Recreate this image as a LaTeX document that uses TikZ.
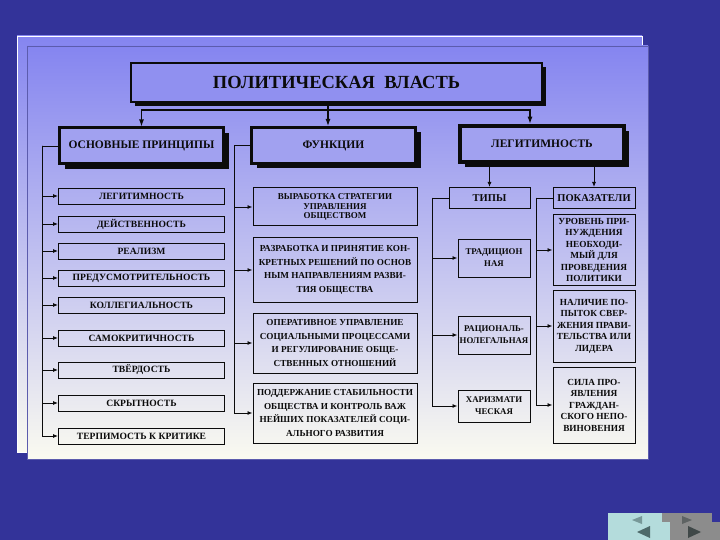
\documentclass[tikz,border=0pt]{standalone}
\usepackage{fontspec}
\setmainfont{Liberation Serif}
\usepackage{tikz}
\usetikzlibrary{arrows.meta,positioning,calc,shadows}
\definecolor{slide}{HTML}{333399}
\definecolor{paneltop}{HTML}{8585F0}
\definecolor{panelbot}{HTML}{FAFAF0}
\definecolor{ink}{HTML}{0B0B0B}
\definecolor{navcyan}{HTML}{B4DCDC}
\definecolor{navgrey}{HTML}{8C8C8C}
\definecolor{navtri}{HTML}{4E6A6A}
\definecolor{navtri2}{HTML}{404848}

\begin{document}
\begin{tikzpicture}[x=1pt,y=-1pt,
  every node/.style={font=\bfseries\fontsize{9.6}{11}\selectfont, text=ink, align=center, inner sep=1pt},
  titlebox/.style={draw=ink, line width=2.5pt, fill=panelbot!9!paneltop, minimum width=411, minimum height=39,
    font=\bfseries\fontsize{18.5}{21}\selectfont, general shadow={fill=ink, shadow xshift=4pt, shadow yshift=-4pt}},
  headbox/.style={draw=ink, line width=3pt, fill=panelbot!24!paneltop, minimum width=164, minimum height=36,
    font=\bfseries\fontsize{11.5}{13}\selectfont, general shadow={fill=ink, shadow xshift=5pt, shadow yshift=-5pt}},
  subhead/.style={draw=ink, line width=1pt, minimum height=21, font=\bfseries\fontsize{10.5}{12}\selectfont},
  princ/.style={draw=ink, line width=0.9pt, minimum width=166, minimum height=16},
  item/.style={draw=ink, line width=1pt},
  link/.style={draw=ink, line width=0.9pt},
  arr/.style={link, -{Latex[length=5pt,width=4pt]}},
  bigarr/.style={draw=ink, line width=1.2pt, -{Latex[length=7pt,width=5pt]}}]
  \useasboundingbox (0,0) rectangle (720,540);
  \fill[slide] (0,0) rectangle (720,540);
  % slide panels
  \shade[top color=paneltop, bottom color=panelbot, draw=white, line width=0.8pt] (17,36) rectangle (642,452);
  \shade[top color=paneltop, bottom color=panelbot, draw=slide!80!white, line width=0.6pt] (27,46) rectangle (648,459);

  % top level
  \node[titlebox] (vlast) at (336.5,82.5) {ПОЛИТИЧЕСКАЯ\ \ ВЛАСТЬ};
  \node[headbox] (osn) at (141.5,146) {ОСНОВНЫЕ ПРИНЦИПЫ};
  \node[headbox] (func) at (333.5,145.5) {ФУНКЦИИ};
  \node[headbox, line width=4.5pt] (leg) at (542,144) {ЛЕГИТИМНОСТЬ};
  \coordinate (hub) at (328,110);
  \draw[bigarr] (vlast.south -| hub) -- (func.north -| hub);
  \draw[bigarr] (hub) -| (osn.north);
  \draw[bigarr] (hub) -| ([xshift=-12pt]leg.north);

  % principles
  \foreach \i/\y/\t in {1/196/ЛЕГИТИМНОСТЬ, 2/224/ДЕЙСТВЕННОСТЬ, 3/251/РЕАЛИЗМ, 4/278/ПРЕДУСМОТРИТЕЛЬНОСТЬ,
      5/305/КОЛЛЕГИАЛЬНОСТЬ, 6/338/САМОКРИТИЧНОСТЬ, 7/370/ТВЁРДОСТЬ, 8/403/СКРЫТНОСТЬ, 9/436/ТЕРПИМОСТЬ К КРИТИКЕ}
    \node[princ] (p\i) at (141.5,\y) {\t};
  \coordinate (lbus) at ($(osn.west)+(-16,0)$);
  \draw[link] (osn.west) -- (lbus);
  \foreach \i in {1,...,9} \draw[arr] (lbus) |- (p\i.west);

  % functions
  \node[item, minimum width=164, minimum height=38, font=\bfseries\fontsize{9}{9.5}\selectfont] (m1) at (335,207)
    {ВЫРАБОТКА СТРАТЕГИИ\\УПРАВЛЕНИЯ\\ОБЩЕСТВОМ};
  \foreach \i/\y/\h/\t in {2/270/65/{РАЗРАБОТКА И ПРИНЯТИЕ КОН-\\КРЕТНЫХ РЕШЕНИЙ ПО ОСНОВ\\НЫМ НАПРАВЛЕНИЯМ РАЗВИ-\\ТИЯ ОБЩЕСТВА},
      3/343/60/{ОПЕРАТИВНОЕ УПРАВЛЕНИЕ\\СОЦИАЛЬНЫМИ ПРОЦЕССАМИ\\И РЕГУЛИРОВАНИЕ ОБЩЕ-\\СТВЕННЫХ ОТНОШЕНИЙ},
      4/413/60/{ПОДДЕРЖАНИЕ СТАБИЛЬНОСТИ\\ОБЩЕСТВА И КОНТРОЛЬ ВАЖ\\НЕЙШИХ ПОКАЗАТЕЛЕЙ СОЦИ-\\АЛЬНОГО РАЗВИТИЯ}}
    \node[item, minimum width=164, minimum height=\h, font=\bfseries\fontsize{9.2}{13.5}\selectfont] (m\i) at (335,\y) {\t};
  \coordinate (mbus) at ($(func.west)+(-16,0)$);
  \draw[link] (func.west) -- (mbus);
  \foreach \i in {1,...,4} \draw[arr] (mbus) |- (m\i.west);

  % legitimacy: types and indicators
  \node[subhead, minimum width=81] (tipy) at (489.5,198) {ТИПЫ};
  \node[subhead, minimum width=82] (pokaz) at (594,198) {ПОКАЗАТЕЛИ};
  \draw[arr] (tipy.north |- leg.south) -- (tipy.north);
  \draw[arr] (pokaz.north |- leg.south) -- (pokaz.north);
  \foreach \i/\y/\h/\t in {1/258/38/{ТРАДИЦИОН\\НАЯ}, 2/335/38/{РАЦИОНАЛЬ-\\НОЛЕГАЛЬНАЯ}, 3/406/32/{ХАРИЗМАТИ\\ЧЕСКАЯ}}
    \node[item, minimum width=72, minimum height=\h, font=\bfseries\fontsize{8.8}{12}\selectfont] (t\i) at (494,\y) {\t};
  \foreach \i/\y/\h/\t in {1/250/71/{УРОВЕНЬ ПРИ-\\НУЖДЕНИЯ\\НЕОБХОДИ-\\МЫЙ ДЛЯ\\ПРОВЕДЕНИЯ\\ПОЛИТИКИ},
      2/326/72/{НАЛИЧИЕ ПО-\\ПЫТОК СВЕР-\\ЖЕНИЯ ПРАВИ-\\ТЕЛЬСТВА ИЛИ\\ЛИДЕРА},
      3/405/76/{СИЛА ПРО-\\ЯВЛЕНИЯ\\ГРАЖДАН-\\СКОГО НЕПО-\\ВИНОВЕНИЯ}}
    \node[item, minimum width=82, minimum height=\h, font=\bfseries\fontsize{9.3}{11.5}\selectfont] (k\i) at (594,\y) {\t};
  \coordinate (tbus) at ($(tipy.west)+(-16,0)$);
  \coordinate (kbus) at ($(pokaz.west)+(-16,0)$);
  \draw[link] (tipy.west) -- (tbus);
  \draw[link] (pokaz.west) -- (kbus);
  \foreach \i in {1,2,3} {\draw[arr] (tbus) |- (t\i.west); \draw[arr] (kbus) |- (k\i.west);}

  % navigation buttons
  \fill[navcyan] (608,513) rectangle (662,540); \fill[navgrey] (662,513) rectangle (712,540);
  \fill[navcyan] (618,522) rectangle (670,540); \fill[navgrey] (670,522) rectangle (720,540);
  \fill[navtri!60!navcyan] (632,520) -- (642,516) -- (642,524) -- cycle;
  \fill[navtri2!60!navgrey] (692,520) -- (682,516) -- (682,524) -- cycle;
  \fill[navtri] (637,532) -- (650,526) -- (650,538) -- cycle;
  \fill[navtri2] (701,532) -- (688,526) -- (688,538) -- cycle;
\end{tikzpicture}
\end{document}
